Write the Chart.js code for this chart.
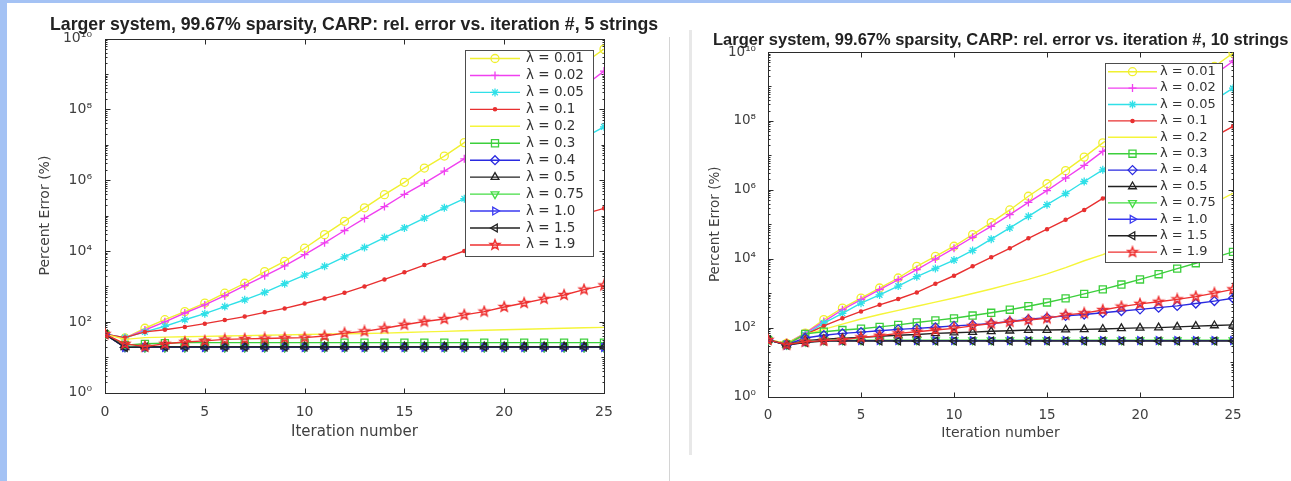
<!DOCTYPE html>
<html>
<head>
<meta charset="utf-8">
<script src="https://cdn.jsdelivr.net/npm/chart.js"></script>
<style>
  html, body { margin: 0; padding: 0; background: #fff; }
  body { width: 1291px; height: 481px; position: relative; overflow: hidden; }
  .band-top { position: absolute; left: 0; top: 0; width: 1291px; height: 3px; background: #a4c2f4; }
  .band-left { position: absolute; left: 0; top: 0; width: 7px; height: 481px; background: #a4c2f4; }
  .sep1 { position: absolute; left: 669px; top: 37px; width: 1px; height: 444px; background: #d4d4d4; }
  .sep2 { position: absolute; left: 689px; top: 30px; width: 3px; height: 425px; background: #e8e8e8; }
  .panel { position: absolute; top: 0; }
</style>
</head>
<body>
<div class="band-top"></div>
<div class="band-left"></div>
<div class="sep1"></div>
<div class="sep2"></div>
<div class="panel" style="left:0px"><canvas id="chart5" width="668" height="481"></canvas></div>
<div class="panel" style="left:670px"><canvas id="chart10" width="621" height="481"></canvas></div>
<script>
// iteration numbers and lambda values
var iterations = [0,1,2,3,4,5,6,7,8,9,10,11,12,13,14,15,16,17,18,19,20,21,22,23,24,25];
var lambdas = ["0.01","0.02","0.05","0.1","0.2","0.3","0.4","0.5","0.75","1.0","1.5","1.9"];
var yTickValues = [1, 1e2, 1e4, 1e6, 1e8, 1e10];

// percent error, 5 strings
var e5_001 = [45,35,66,115,195,340,645,1230,2630,5130,1.2e4,2.9e4,6.9e4,1.66e5,3.9e5,8.7e5,2.2e6,4.8e6,1.15e7,2.75e7,6.6e7,1.6e8,3.5e8,7.9e8,2.0e9,5.0e9];
var e5_002 = [45,35,59,100,178,300,550,1050,2000,3800,7900,1.7e4,3.8e4,8.3e4,1.8e5,4.0e5,8.3e5,1.8e6,4.0e6,8.9e6,2.0e7,4.5e7,8.9e7,1.8e8,4.5e8,1.2e9];
var e5_005 = [45,36,52,75,115,170,270,420,680,1200,2100,3700,6800,1.26e4,2.4e4,4.5e4,8.5e4,1.66e5,3.0e5,6.0e5,1.12e6,2.2e6,4.5e6,8.3e6,1.6e7,3.2e7];
var e5_01  = [45,36,52,60,72,89,112,141,186,240,330,460,660,1000,1580,2500,4000,6300,1.0e4,1.6e4,2.4e4,3.5e4,5.2e4,7.6e4,1.1e5,1.6e5];
var e5_02  = [45,32,36,37,38,39,40,41,42,43,44,45,46,47,48,50,52,54,56,58,60,62,64,66,68,70];
var e5_03  = [45,22,24,25,26,26,26,26,26,26,26,26,26,26,26,26,26,26,26,26,26,26,26,26,26,26];
var e5_04  = [45,19,19,19,19,19,19,19,19,19,19,19,19,19,19,19,19,19,19,19,19,19,19,19,19,19];
var e5_05  = [45,19,20,20,20,20,20,20,20,20,20,20,20,20,20,20,20,20,20,20,20,20,20,20,20,20];
var e5_075 = [45,20,19,19,19,19,19,19,19,19,19,19,19,19,19,19,19,19,19,19,19,19,19,19,19,19];
var e5_10  = [45,19,19,19,19,19,19,19,19,19,19,19,19,19,19,19,19,19,19,19,19,19,19,19,19,19];
var e5_15  = [45,19,19.5,19.5,19.5,19.5,19.5,19.5,19.5,19.5,19.5,19.5,19.5,19.5,19.5,19.5,19.5,19.5,19.5,19.5,19.5,19.5,19.5,19.5,19.5,19.5];
var e5_19  = [45,24,20,24,27,29,32,33,34,35,36,40,48,54,66,83,102,120,158,195,263,340,447,575,813,1070];

// percent error, 10 strings
var e10_001 = [44,35,69,170,370,720,1410,2750,6000,1.17e4,2.3e4,5.0e4,1.12e5,2.6e5,6.5e5,1.5e6,3.6e6,8.9e6,2.3e7,5.2e7,1.26e8,2.8e8,6.6e8,1.6e9,3.8e9,9.3e9];
var e10_002 = [44,34,69,150,330,650,1260,2450,4800,9800,2.0e4,4.2e4,8.7e4,1.9e5,4.3e5,9.5e5,2.2e6,5.1e6,1.3e7,3.2e7,7.4e7,1.8e8,4.2e8,9.5e8,2.2e9,5.4e9];
var e10_005 = [44,34,62,135,260,510,890,1600,3000,5200,9100,1.74e4,3.7e4,7.8e4,1.7e5,3.7e5,7.8e5,1.74e6,3.8e6,7.9e6,1.66e7,3.5e7,7.9e7,1.8e8,4.0e8,8.9e8];
var e10_01  = [44,34,62,112,186,295,457,676,1050,1860,3200,6000,1.1e4,2.0e4,3.9e4,7.2e4,1.35e5,2.6e5,5.6e5,1.1e6,2.2e6,4.5e6,8.9e6,1.8e7,3.5e7,6.9e7];
var e10_02  = [44,35,63,89,126,178,240,316,417,550,724,977,1320,1820,2500,3630,5500,8700,1.32e4,2.2e4,4.0e4,7.1e4,1.26e5,2.2e5,4.2e5,7.9e5];
var e10_03  = [44,32,66,76,85,93,105,120,141,162,186,224,269,331,417,537,708,955,1290,1780,2500,3550,5130,7400,1.07e4,1.58e4];
var e10_04  = [44,32,50,60,68,74,81,89,95,102,112,120,132,151,174,195,219,240,269,302,339,380,427,501,589,708];
var e10_05  = [44,32,42,46,49,52,56,60,63,68,71,74,78,81,85,85,87,89,91,95,98,100,105,110,115,120];
var e10_075 = [44,32,39,43,43,43,43,43,43,43,43,43,43,43,43,43,43,43,43,43,43,43,43,43,43,43];
var e10_10  = [44,31,38,42,42,42,42,42,42,42,42,42,42,42,42,42,42,42,42,42,42,42,42,42,42,42];
var e10_15  = [44,31,37,41,41,41,41,41,41,41,41,41,41,41,41,41,41,41,41,41,41,41,41,41,41,41];
var e10_19  = [44,32,39,42,44,52,58,68,76,85,95,112,132,148,166,186,234,263,324,407,490,562,661,794,1000,1290];

var series5  = [e5_001, e5_002, e5_005, e5_01, e5_02, e5_03, e5_04, e5_05, e5_075, e5_10, e5_15, e5_19];
var series10 = [e10_001, e10_002, e10_005, e10_01, e10_02, e10_03, e10_04, e10_05, e10_075, e10_10, e10_15, e10_19];

// matlab-ish line colours and markers
var lineColors = ["#f0f030","#f040f0","#30e0e8","#e83030","#f5f53a","#3ccf3c","#2a2ae0","#222222","#44dd44","#3a3af0","#222222","#ee3030"];

function pentagram(color, r) {
  var c = document.createElement("canvas");
  var s = Math.ceil(r * 2 + 4);
  c.width = s; c.height = s;
  var g = c.getContext("2d");
  g.strokeStyle = color;
  g.lineWidth = 1.5;
  g.beginPath();
  for (var k = 0; k < 10; k++) {
    var rad = k % 2 === 0 ? r : r * 0.42;
    var a = -Math.PI / 2 + k * Math.PI / 5;
    var px = s / 2 + rad * Math.cos(a), py = s / 2 + rad * Math.sin(a);
    if (k) g.lineTo(px, py); else g.moveTo(px, py);
  }
  g.closePath();
  g.stroke();
  return c;
}

var markers = [
  {style: "circle", r: 4, rot: 0},
  {style: "cross", r: 4, rot: 0},
  {style: "star", r: 4, rot: 0},
  {style: "circle", r: 1.6, rot: 0, filled: true},
  {style: "circle", r: 0, rot: 0},
  {style: "rect", r: 5, rot: 0},
  {style: "rectRot", r: 4.5, rot: 0},
  {style: "triangle", r: 4.5, rot: 0},
  {style: "triangle", r: 4.5, rot: 180},
  {style: "triangle", r: 4.5, rot: 90},
  {style: "triangle", r: 4.5, rot: 270},
  {style: pentagram("#ee3030", 5), r: 5, rot: 0}
];

var SUP = {"0":"\u2070","1":"\u00b9","2":"\u00b2","3":"\u00b3","4":"\u2074","5":"\u2075","6":"\u2076","7":"\u2077","8":"\u2078","9":"\u2079"};
function supStr(n) {
  return String(n).split("").map(function(d) { return SUP[d]; }).join("");
}

function buildDatasets(series) {
  return series.map(function(vals, i) {
    var m = markers[i];
    return {
      label: "\u03bb = " + lambdas[i],
      data: vals.map(function(v, j) { return {x: iterations[j], y: v}; }),
      borderColor: lineColors[i],
      borderWidth: 1.4,
      pointStyle: m.style,
      pointRadius: m.r,
      pointRotation: m.rot,
      pointBorderColor: lineColors[i],
      pointBackgroundColor: m.filled ? lineColors[i] : "rgba(0,0,0,0)",
      pointBorderWidth: 1.3,
      tension: 0,
      fill: false,
      order: -i
    };
  });
}

// box with inward ticks, like matlab axes
var matlabAxes = {
  id: "matlabAxes",
  beforeDatasetsDraw: function(chart) {
    var ctx = chart.ctx, a = chart.chartArea, x = chart.scales.x, y = chart.scales.y;
    var L = Math.round(a.left) + 0.5, R = Math.round(a.right) + 0.5;
    var T = Math.round(a.top) + 0.5, B = Math.round(a.bottom) + 0.5;
    ctx.save();
    ctx.strokeStyle = "#2b2b2b";
    ctx.lineWidth = 1;
    ctx.strokeRect(L, T, R - L, B - T);
    ctx.beginPath();
    for (var e = 0; e <= 10; e++) {
      for (var m = 1; m <= 9; m++) {
        var v = m * Math.pow(10, e);
        if (v > 1e10) break;
        var py = Math.round(y.getPixelForValue(v)) + 0.5;
        var len = m === 1 ? (e % 2 === 0 ? 5 : 3) : 2;
        ctx.moveTo(L, py); ctx.lineTo(L + len, py);
        ctx.moveTo(R, py); ctx.lineTo(R - len, py);
      }
    }
    x.ticks.forEach(function(t) {
      var px = Math.round(x.getPixelForValue(t.value)) + 0.5;
      ctx.moveTo(px, B); ctx.lineTo(px, B - 5);
      ctx.moveTo(px, T); ctx.lineTo(px, T + 5);
    });
    ctx.stroke();
    ctx.restore();
  }
};

var matlabLegend = {
  id: "matlabLegend",
  afterDatasetsDraw: function(chart, args, o) {
    var ctx = chart.ctx;
    ctx.save();
    ctx.fillStyle = "#fff";
    ctx.fillRect(o.x, o.y, o.w, o.h);
    ctx.strokeStyle = "#4d4d4d";
    ctx.lineWidth = 1;
    ctx.strokeRect(o.x + 0.5, o.y + 0.5, o.w, o.h);
    chart.data.datasets.forEach(function(ds, i) {
      var yy = o.rowY + i * o.rowH;
      ctx.strokeStyle = ds.borderColor;
      ctx.lineWidth = ds.borderWidth;
      ctx.beginPath();
      ctx.moveTo(o.lineX0, yy); ctx.lineTo(o.lineX1, yy);
      ctx.stroke();
      if (ds.pointRadius > 0) {
        ctx.strokeStyle = ds.pointBorderColor;
        ctx.fillStyle = ds.pointBackgroundColor;
        ctx.lineWidth = ds.pointBorderWidth;
        Chart.helpers.drawPoint(ctx, {
          pointStyle: ds.pointStyle, radius: ds.pointRadius,
          rotation: ds.pointRotation, borderWidth: ds.pointBorderWidth
        }, (o.lineX0 + o.lineX1) / 2, yy);
      }
      ctx.fillStyle = "#333";
      ctx.font = o.fontSize + "px 'DejaVu Sans', sans-serif";
      ctx.textAlign = "left";
      ctx.textBaseline = "middle";
      ctx.fillText(ds.label, o.textX, yy);
    });
    ctx.restore();
  }
};

var plotTitle = {
  id: "plotTitle",
  afterDraw: function(chart, args, o) {
    var ctx = chart.ctx;
    ctx.save();
    ctx.font = "bold 14px 'Liberation Sans', Arial, sans-serif";
    var size = 14 * o.width / ctx.measureText(o.text).width;
    ctx.font = "bold " + size.toFixed(2) + "px 'Liberation Sans', Arial, sans-serif";
    ctx.fillStyle = "#222";
    ctx.textAlign = "left";
    ctx.textBaseline = "middle";
    ctx.fillText(o.text, o.x, o.y);
    ctx.restore();
  }
};

function makeChart(id, series, cfg) {
  var fam = "'DejaVu Sans', sans-serif";
  return new Chart(document.getElementById(id), {
    type: "line",
    data: { datasets: buildDatasets(series) },
    options: {
      responsive: false,
      animation: false,
      devicePixelRatio: 1,
      layout: { padding: cfg.padding },
      plugins: {
        legend: { display: false },
        tooltip: { enabled: false },
        title: { display: false },
        matlabLegend: cfg.legend,
        plotTitle: cfg.title
      },
      scales: {
        x: {
          type: "linear", min: 0, max: 25,
          grid: { display: false }, border: { display: false },
          ticks: { stepSize: 5, padding: cfg.xTickPad, color: "#404040", font: { family: fam, size: cfg.tickSize } },
          title: { display: true, text: "Iteration number", color: "#404040",
                   font: { family: fam, size: cfg.xTitleSize }, padding: { top: 0, bottom: cfg.xTitlePad } },
          afterFit: function(s) { s.height = cfg.xAxisHeight; }
        },
        y: {
          type: "logarithmic", min: 1, max: 1e10,
          grid: { display: false }, border: { display: false },
          afterBuildTicks: function(s) { s.ticks = yTickValues.map(function(v) { return {value: v}; }); },
          ticks: {
            padding: cfg.yTickPad, color: "#404040", font: { family: fam, size: cfg.tickSize },
            callback: function(v) { return "10" + supStr(Math.round(Math.log10(v))); }
          },
          title: { display: true, text: "Percent Error (%)", color: "#404040",
                   font: { family: fam, size: cfg.yTitleSize }, padding: { top: cfg.yTitlePad, bottom: 0 } },
          afterFit: function(s) { s.width = cfg.yAxisWidth; }
        }
      }
    },
    plugins: [matlabAxes, matlabLegend, plotTitle]
  });
}

makeChart("chart5", series5, {
  padding: { left: 30, right: 64, top: 38.5, bottom: 30 },
  yAxisWidth: 75, xAxisHeight: 58.3,
  tickSize: 14, xTitleSize: 15, yTitleSize: 14,
  xTickPad: 3, xTitlePad: 10, yTitlePad: 6.6, yTickPad: 5,
  legend: { x: 465, y: 50, w: 128, h: 206, rowY: 58.5, rowH: 16.95, lineX0: 470, lineX1: 520, textX: 526, fontSize: 13.5 },
  title: { text: "Larger system, 99.67% sparsity, CARP: rel. error vs. iteration #, 5 strings", x: 50, y: 25, width: 609 }
});

makeChart("chart10", series10, {
  padding: { left: 30, right: 58, top: 52, bottom: 30 },
  yAxisWidth: 68, xAxisHeight: 54.5,
  tickSize: 13.5, xTitleSize: 14, yTitleSize: 13.5,
  xTickPad: 3, xTitlePad: 9.6, yTitlePad: 6.9, yTickPad: 4,
  legend: { x: 435, y: 63, w: 117, h: 199, rowY: 71.7, rowH: 16.4, lineX0: 438, lineX1: 487, textX: 490, fontSize: 13 },
  title: { text: "Larger system, 99.67% sparsity, CARP: rel. error vs. iteration #, 10 strings", x: 43, y: 40, width: 576 }
});
</script>
</body>
</html>
